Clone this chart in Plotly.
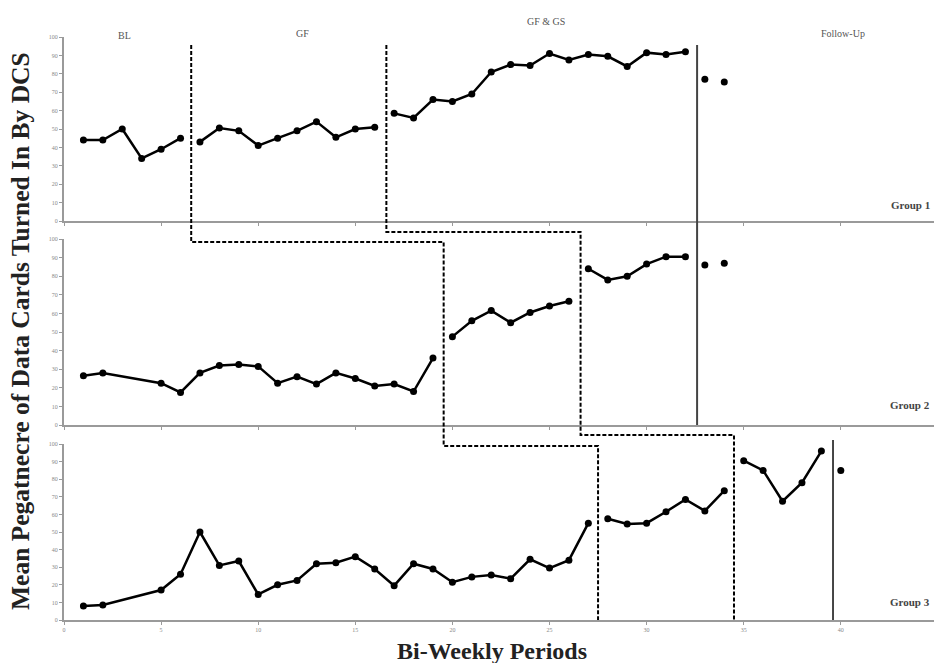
import plotly.graph_objects as go

W, H = 934, 663

# ---------------- data ----------------
g1_bl_x = [1, 2, 3, 4, 5, 6]
g1_bl_y = [44, 44, 50, 34, 39, 45]
g1_gf_x = [7, 8, 9, 10, 11, 12, 13, 14, 15, 16]
g1_gf_y = [43, 50.5, 49, 41, 45, 49, 54, 45.5, 50, 51]
g1_gs_x = list(range(17, 33))
g1_gs_y = [58.5, 56, 66, 65, 69, 81, 85, 84.5, 91, 87.5, 90.5, 89.5, 84, 91.5, 90.5, 92]
g1_fu_x = [33, 34]
g1_fu_y = [77, 75.5]

g2_bl_x = [1, 2, 5, 6, 7, 8, 9, 10, 11, 12, 13, 14, 15, 16, 17, 18, 19]
g2_bl_y = [26.5, 28, 22.5, 17.5, 28, 32, 32.5, 31.5, 22.5, 26, 22, 28, 25, 21, 22, 18, 36]
g2_gf_x = [20, 21, 22, 23, 24, 25, 26]
g2_gf_y = [47.5, 56, 61.5, 55, 60.5, 64, 66.5]
g2_gs_x = [27, 28, 29, 30, 31, 32]
g2_gs_y = [84, 78, 80, 86.5, 90.5, 90.5]
g2_fu_x = [33, 34]
g2_fu_y = [86, 87]

g3_bl_x = [1, 2, 5, 6, 7, 8, 9, 10, 11, 12, 13, 14, 15, 16, 17, 18, 19, 20,
           21, 22, 23, 24, 25, 26, 27]
g3_bl_y = [8, 8.5, 17, 26, 50, 31, 33.5, 14.5, 20, 22.5, 32, 32.5, 36, 29, 19.5,
           32, 29, 21.5, 24.5, 25.5, 23.5, 34.5, 29.5, 34, 55]
g3_gf_x = [28, 29, 30, 31, 32, 33, 34]
g3_gf_y = [57.5, 54.5, 55, 61.5, 68.5, 62, 73.5]
g3_gs_x = [35, 36, 37, 38, 39]
g3_gs_y = [90.5, 85, 67.5, 78, 96]
g3_fu_x = [40]
g3_fu_y = [85]

# phase-change lines (x in periods)
gf_start = [6.55, 19.55, 27.5]
gs_start = [16.6, 26.6, 34.5]
fu_start = [32.6, 39.6]

phase_names = ["BL", "GF", "GF & GS", "Follow-Up"]
phase_label_x = [3.1, 12.3, 24.8, 40.1]
group_names = ["Group 1", "Group 2", "Group 3"]

x_ticks = [0, 5, 10, 15, 20, 25, 30, 35, 40, 45]
y_ticks = [0, 10, 20, 30, 40, 50, 60, 70, 80, 90, 100]

# ---------------- layout helpers ----------------
def py(px):
    return (H - px) / H

doms = [[py(221), py(37)], [py(425), py(239)], [py(620), py(444)]]

fig = go.Figure()

groups = [
    [(g1_bl_x, g1_bl_y), (g1_gf_x, g1_gf_y), (g1_gs_x, g1_gs_y)],
    [(g2_bl_x, g2_bl_y), (g2_gf_x, g2_gf_y), (g2_gs_x, g2_gs_y)],
    [(g3_bl_x, g3_bl_y), (g3_gf_x, g3_gf_y), (g3_gs_x, g3_gs_y)],
]
followups = [(g1_fu_x, g1_fu_y), (g2_fu_x, g2_fu_y), (g3_fu_x, g3_fu_y)]

for i, segs in enumerate(groups):
    xa = "x" if i == 0 else f"x{i+1}"
    ya = "y" if i == 0 else f"y{i+1}"
    for sx, sy in segs:
        fig.add_trace(go.Scatter(x=sx, y=sy, mode="lines+markers", xaxis=xa, yaxis=ya,
                                 line=dict(color="black", width=2.5),
                                 marker=dict(color="black", size=7),
                                 showlegend=False, cliponaxis=False))
    fx, fy = followups[i]
    fig.add_trace(go.Scatter(x=fx, y=fy, mode="markers", xaxis=xa, yaxis=ya,
                             marker=dict(color="black", size=7),
                             showlegend=False, cliponaxis=False))

axis_col = "#9a9a9a"
xr = [0, (W - 64) / 19.42]
for i in range(3):
    xkey = "xaxis" if i == 0 else f"xaxis{i+1}"
    ykey = "yaxis" if i == 0 else f"yaxis{i+1}"
    ya = "y" if i == 0 else f"y{i+1}"
    xa = "x" if i == 0 else f"x{i+1}"
    fig.layout[xkey] = dict(domain=[64 / W, 1], range=xr, anchor=ya, automargin=False,
                            tickvals=x_ticks, showticklabels=(i == 2),
                            ticks="outside", ticklen=3, tickcolor=axis_col,
                            showline=True, linecolor=axis_col, linewidth=2,
                            showgrid=False, zeroline=False,
                            tickfont=dict(family="Liberation Serif", size=6, color="#888"),
                            **({} if i == 0 else {"matches": "x"}))
    fig.layout[ykey] = dict(domain=doms[i], range=[0, 100], anchor=xa, automargin=False,
                            tickvals=y_ticks, ticks="outside", ticklen=3,
                            tickcolor=axis_col, showline=True, linecolor=axis_col,
                            linewidth=2, showgrid=False, zeroline=False,
                            tickfont=dict(family="Liberation Serif", size=6, color="#888"))

# phase-change lines
dash = "4px,2px"
p1 = (f"M {gf_start[0]},{py(45)} L {gf_start[0]},{py(242)} L {gf_start[1]},{py(242)} "
      f"L {gf_start[1]},{py(446)} L {gf_start[2]},{py(446)} L {gf_start[2]},{py(620)}")
p2 = (f"M {gs_start[0]},{py(45)} L {gs_start[0]},{py(232)} L {gs_start[1]},{py(232)} "
      f"L {gs_start[1]},{py(435)} L {gs_start[2]},{py(435)} L {gs_start[2]},{py(620)}")
shapes = [
    dict(type="path", path=p1, xref="x", yref="paper", line=dict(color="black", width=2, dash=dash)),
    dict(type="path", path=p2, xref="x", yref="paper", line=dict(color="black", width=2, dash=dash)),
    dict(type="line", x0=fu_start[0], x1=fu_start[0], y0=py(45), y1=py(425), xref="x", yref="paper",
         line=dict(color="#444", width=2)),
    dict(type="line", x0=fu_start[1], x1=fu_start[1], y0=py(440), y1=py(620), xref="x", yref="paper",
         line=dict(color="#444", width=2)),
]
fig.update_layout(shapes=shapes)

ann = []
phase_label_y = [35, 33, 22, 33]
for name, lx, ly in zip(phase_names, phase_label_x, phase_label_y):
    ann.append(dict(text=name, x=lx, y=py(ly), xref="x", yref="paper", showarrow=False,
                    font=dict(family="Liberation Serif", size=10, color="#555"),
                    xanchor="center", yanchor="middle"))
for name, gy in zip(group_names, [205, 405, 602]):
    ann.append(dict(text="<b>" + name + "</b>", x=932 / W, y=py(gy), xref="paper", yref="paper",
                    showarrow=False, xanchor="right", yanchor="middle",
                    font=dict(family="Liberation Serif", size=11, color="#444")))
ann.append(dict(text="<b>Mean Pegatnecre of Data Cards Turned In By DCS</b>", x=20 / W, y=py(331),
                xref="paper", yref="paper", showarrow=False, textangle=-90,
                xanchor="center", yanchor="middle",
                font=dict(family="Liberation Serif", size=25.5, color="#222")))
ann.append(dict(text="<b>Bi-Weekly Periods</b>", x=492 / W, y=py(651),
                xref="paper", yref="paper", showarrow=False,
                xanchor="center", yanchor="middle",
                font=dict(family="Liberation Serif", size=24, color="#222")))
fig.update_layout(annotations=ann, width=W, height=H,
                  margin=dict(l=0, r=0, t=0, b=0),
                  paper_bgcolor="white", plot_bgcolor="white", showlegend=False)

fig.write_html("out.html", config={"displayModeBar": False},
               post_script="document.body.style.margin='0';document.body.style.overflow='hidden';")
